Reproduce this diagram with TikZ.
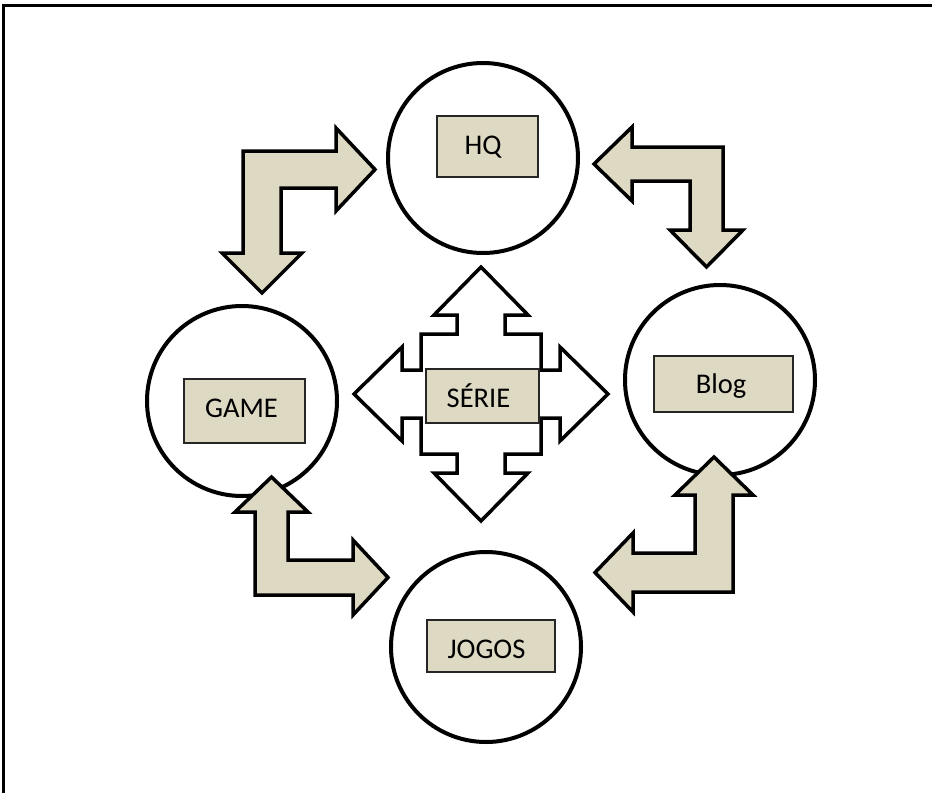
\documentclass[tikz,border=0pt]{standalone}
\usepackage{fontspec}
\setmainfont{Carlito}
\definecolor{beige}{HTML}{DDD9C3}
\begin{document}
\begin{tikzpicture}[x=1pt,y=-1pt,
  circ/.style={circle,draw=black,line width=4pt,fill=white,minimum size=190pt,inner sep=0pt},
  lbox/.style={rectangle,draw=black!85,line width=1.2pt,fill=beige,inner sep=0pt},
  bent/.style={draw=black,line width=3.5pt,fill=beige,line join=miter},
  cross/.style={draw=black,line width=3.5pt,fill=white,line join=miter},
  txt/.style={font=\fontsize{28.5}{34}\selectfont,inner sep=0pt,anchor=base}]
\useasboundingbox (0,0) rectangle (932,793);
\fill[white] (0,0) rectangle (932,793);
% frame
\draw[line width=2.5pt] (3.7,793) -- (3.7,5.3) -- (932,5.3);
% circles
\node[circ] (hq) at (483,158) {};
\node[circ] (game) at (242,401) {};
\node[circ] (blog) at (720,380) {};
\node[circ] (jogos) at (486,647) {};
% label boxes
\node[lbox,minimum width=101pt,minimum height=61pt] (hqbox) at (487.5,146.5) {};
\node[lbox,minimum width=121pt,minimum height=64pt] (gamebox) at (244.5,411) {};
\node[lbox,minimum width=139pt,minimum height=56pt] (blogbox) at (723.5,384) {};
\node[lbox,minimum width=128pt,minimum height=52pt] (jogosbox) at (491,646) {};
% central four-way arrow
\draw[cross,shift={(481,394)}] (0,-127) -- (47,-79) -- (24,-79) -- (24,-60) -- (60,-60) -- (60,-24) -- (79,-24) -- (79,-47) -- (127,0) -- (79,47) -- (79,24) -- (60,24) -- (60,60) -- (24,60) -- (24,79) -- (47,79) -- (0,127) -- (-47,79) -- (-24,79) -- (-24,60) -- (-60,60) -- (-60,24) -- (-79,24) -- (-79,47) -- (-127,0) -- (-79,-47) -- (-79,-24) -- (-60,-24) -- (-60,-60) -- (-24,-60) -- (-24,-79) -- (-47,-79) -- cycle;
\node[lbox,minimum width=113pt,minimum height=54pt] (seriebox) at (482.5,396) {};
% texts
\node[txt] (hqt) at (483,154) {HQ};
\node[txt] (gamet) at (241.5,417) {GAME};
\node[txt] (blogt) at (721,393) {Blog};
\node[txt] (jogost) at (486.5,658) {JOGOS};
\node[txt] (seriet) at (478.5,407.5) {SÉRIE};
% bent arrows
\draw[bent] (243,151) -- (336,151) -- (336,128) -- (375,169.5) -- (336,211) -- (336,188) -- (281,188) -- (281,253) -- (302,253) -- (262,293) -- (222,253) -- (243,253) -- cycle;
\draw[bent] (723,147) -- (632,147) -- (632,127) -- (594,164) -- (632,201) -- (632,181) -- (690,181) -- (690,230) -- (670,230) -- (706.5,267) -- (743,230) -- (723,230) -- cycle;
\draw[bent] (255,512) -- (235,512) -- (271.5,477) -- (308,512) -- (288,512) -- (288,560) -- (353,560) -- (353,540) -- (388,577.5) -- (353,615) -- (353,595) -- (255,595) -- cycle;
\draw[bent] (733,495) -- (753,495) -- (714,457) -- (675,495) -- (695,495) -- (695,553) -- (633,553) -- (633,533) -- (595,572.5) -- (633,612) -- (633,592) -- (733,592) -- cycle;
\end{tikzpicture}
\end{document}
